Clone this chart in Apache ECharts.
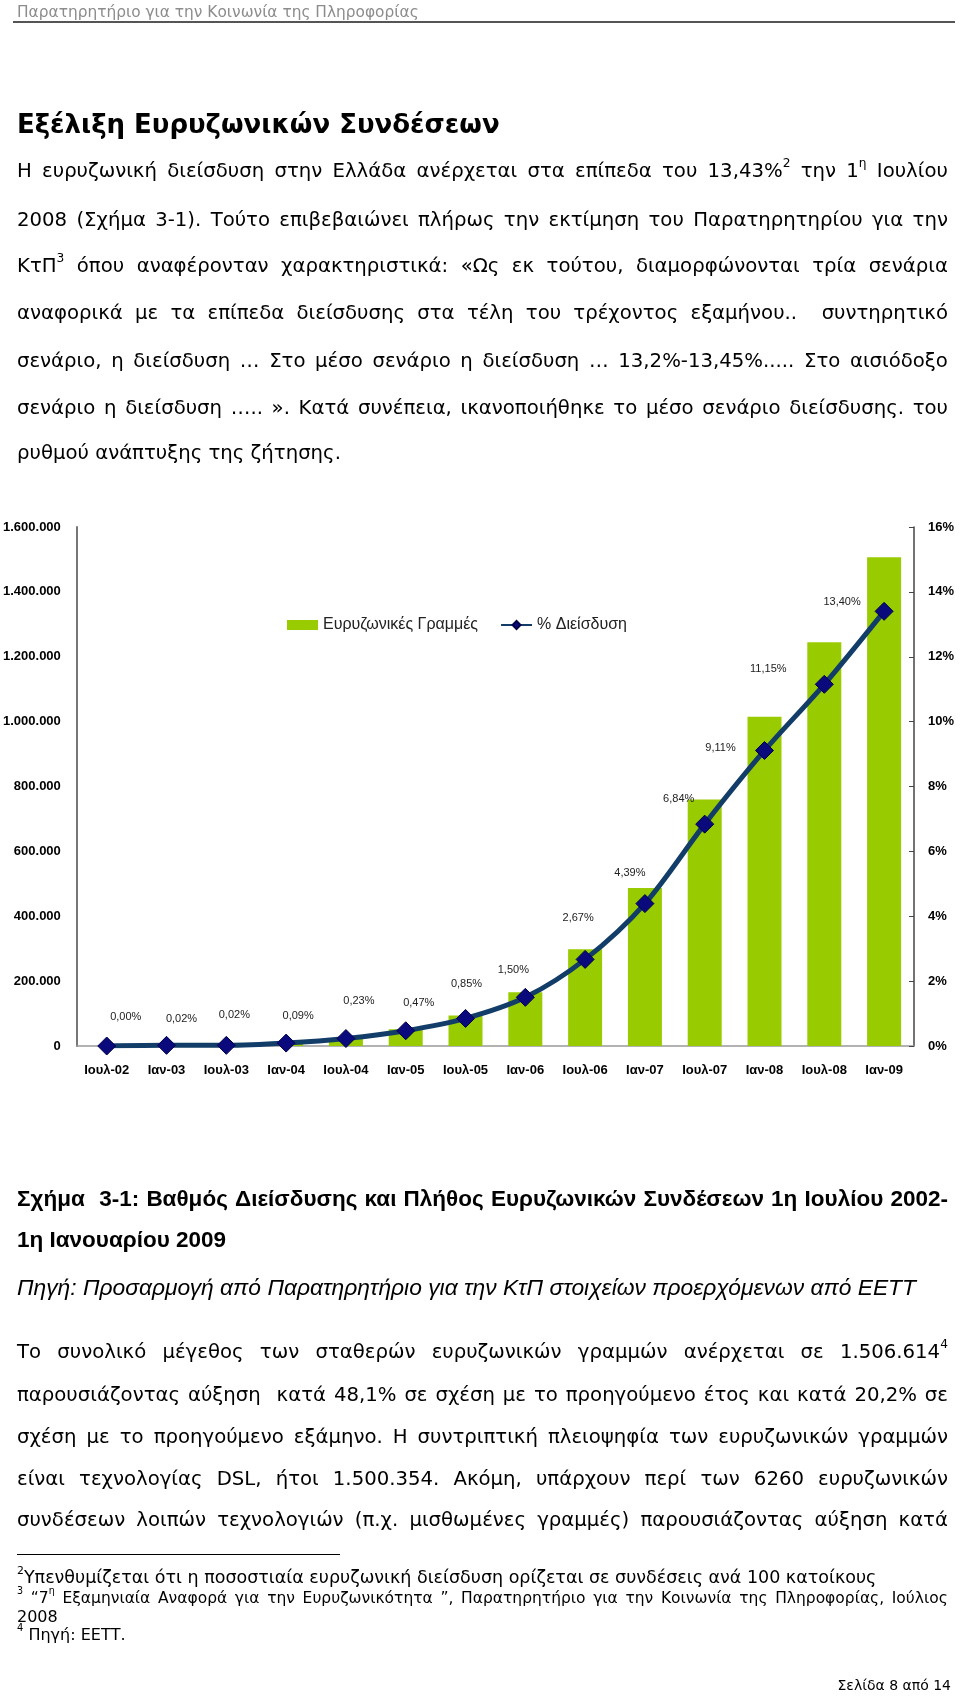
<!DOCTYPE html>
<html><head><meta charset="utf-8">
<script src="https://cdn.jsdelivr.net/npm/echarts@6/dist/echarts.min.js"></script>
<style>
html,body{margin:0;padding:0;background:#fff;}
body{width:960px;height:1704px;position:relative;overflow:hidden;}
#chart{position:absolute;left:0;top:0;width:960px;height:1704px;}
.t{position:absolute;white-space:nowrap;color:#000;}
.j{display:flex;justify-content:space-between;}
sup{font-size:62%;line-height:0;position:relative;top:-0.2em;vertical-align:super;}
</style></head><body>
<div id="chart"></div>
<div id="text"></div>
<script>
// ---- chart data ----
const categories = ['Ιουλ-02','Ιαν-03','Ιουλ-03','Ιαν-04','Ιουλ-04','Ιαν-05','Ιουλ-05','Ιαν-06','Ιουλ-06','Ιαν-07','Ιουλ-07','Ιαν-08','Ιουλ-08','Ιαν-09'];
const broadbandLines = [300, 2000, 2500, 10000, 25000, 52000, 94000, 166000, 298000, 487000, 760000, 1015000, 1245000, 1506614];
const penetration = [0.00, 0.02, 0.02, 0.09, 0.23, 0.47, 0.85, 1.50, 2.67, 4.39, 6.84, 9.11, 11.15, 13.40];
const leftTicks = [0, 200000, 400000, 600000, 800000, 1000000, 1200000, 1400000, 1600000];
const rightTicks = [0, 2, 4, 6, 8, 10, 12, 14, 16];
const seriesNames = ['Ευρυζωνικές Γραμμές', '% Διείσδυση'];
// label placement (style), one per point
const labelOffsets = [[19,-29],[15,-26],[8,-30],[12,-27],[13,-38],[13,-28],[1,-34],[-12,-27],[-7,-41],[-15,-31],[-26,-25],[-44,-3],[-56,-15],[-42,-9]];

// ---- page text ----
const headerText = 'Παρατηρητήριο για την Κοινωνία της Πληροφορίας';
const titleText = 'Εξέλιξη Ευρυζωνικών Συνδέσεων';
const para1 = [
 'Η ευρυζωνική διείσδυση στην Ελλάδα ανέρχεται στα επίπεδα του 13,43%^2 την 1^η Ιουλίου',
 '2008 (Σχήμα 3-1). Τούτο επιβεβαιώνει πλήρως την εκτίμηση του Παρατηρητηρίου για την',
 'ΚτΠ^3 όπου αναφέρονταν χαρακτηριστικά: «Ως εκ τούτου, διαμορφώνονται τρία σενάρια',
 'αναφορικά με τα επίπεδα διείσδυσης στα τέλη του τρέχοντος εξαμήνου..  συντηρητικό',
 'σενάριο, η διείσδυση … Στο μέσο σενάριο η διείσδυση … 13,2%-13,45%..... Στο αισιόδοξο',
 'σενάριο η διείσδυση ….. ». Κατά συνέπεια, ικανοποιήθηκε το μέσο σενάριο διείσδυσης. του',
 'ρυθμού ανάπτυξης της ζήτησης.'
];
const captionLines = [
 'Σχήμα  3-1: Βαθμός Διείσδυσης και Πλήθος Ευρυζωνικών Συνδέσεων 1η Ιουλίου 2002-',
 '1η Ιανουαρίου 2009'
];
const sourceText = 'Πηγή: Προσαρμογή από Παρατηρητήριο για την ΚτΠ στοιχείων προερχόμενων από ΕΕΤΤ';
const para2 = [
 'Το συνολικό μέγεθος των σταθερών ευρυζωνικών γραμμών ανέρχεται σε 1.506.614^4',
 'παρουσιάζοντας αύξηση  κατά 48,1% σε σχέση με το προηγούμενο έτος και κατά 20,2% σε',
 'σχέση με το προηγούμενο εξάμηνο. Η συντριπτική πλειοψηφία των ευρυζωνικών γραμμών',
 'είναι τεχνολογίας DSL, ήτοι 1.500.354. Ακόμη, υπάρχουν περί των 6260 ευρυζωνικών',
 'συνδέσεων λοιπών τεχνολογιών (π.χ. μισθωμένες γραμμές) παρουσιάζοντας αύξηση κατά'
];
const footnotes = [
 '^2Υπενθυμίζεται ότι η ποσοστιαία ευρυζωνική διείσδυση ορίζεται σε συνδέσεις ανά 100 κατοίκους',
 '^3 “7^η Εξαμηνιαία Αναφορά για την Ευρυζωνικότητα ”, Παρατηρητήριο για την Κοινωνία της Πληροφορίας, Ιούλιος',
 '2008',
 '^4 Πηγή: ΕΕΤΤ.'
];
const pageText = 'Σελίδα 8 από 14';

// ---- text rendering ----
const host = document.getElementById('text');
function sup(s){ return s.replace(/\^(\S)/g, '<sup>$1</sup>'); }
function addLine(txt, o){
  const d = document.createElement('div');
  d.className = 't' + (o.justify ? ' j' : '');
  const lh = o.lh || Math.round(o.size*1.3);
  d.style.top = (o.cy - lh/2) + 'px';
  d.style.lineHeight = lh + 'px';
  d.style.height = lh + 'px';
  if (o.right !== undefined) d.style.right = o.right + 'px'; else d.style.left = (o.left||17) + 'px';
  if (o.justify) d.style.width = (o.width||931) + 'px';
  d.style.fontSize = o.size + 'px';
  d.style.fontFamily = o.family || "'DejaVu Sans', Verdana, sans-serif";
  d.style.fontWeight = o.bold ? 'bold' : 'normal';
  d.style.fontStyle = o.italic ? 'italic' : 'normal';
  d.style.color = o.color || '#000';
  if (o.justify) {
    d.innerHTML = txt.split(' ').map(w => '<span>' + sup(w) + '</span>').join('');
  } else d.innerHTML = sup(txt);
  host.appendChild(d);
}
addLine(headerText, {cy:12, size:15.4, color:'#8c8c8c'});
const hr = document.createElement('div');
hr.style.cssText = 'position:absolute;left:13px;top:21px;width:942px;height:2px;background:#555;';
host.appendChild(hr);
addLine(titleText, {cy:124, size:26, bold:true});
const p1y = [171, 220, 266, 313, 361, 408, 453];
para1.forEach((l,i)=> addLine(l, {cy:p1y[i], size:19.7, justify: i < para1.length-1}));
const capFont = "'Liberation Sans', Arial, sans-serif";
addLine(captionLines[0], {cy:1198, size:22.5, bold:true, family:capFont, justify:true});
addLine(captionLines[1], {cy:1239, size:22.5, bold:true, family:capFont});
addLine(sourceText, {cy:1287, size:22.8, italic:true, family:capFont});
const p2y = [1352, 1395, 1437, 1479, 1520];
para2.forEach((l,i)=> addLine(l, {cy:p2y[i], size:19.7, justify:true}));
const fr = document.createElement('div');
fr.style.cssText = 'position:absolute;left:17px;top:1554px;width:323px;height:1px;background:#000;';
host.appendChild(fr);
const fny = [1577, 1598, 1616, 1634];
const fnSize = [17.5, 15.5, 16, 16];
footnotes.forEach((l,i)=> addLine(l, {cy:fny[i], size:fnSize[i], lh:19, justify: i===1}));
addLine(pageText, {cy:1685, size:14, right:9});

// ---- chart ----
const chart = echarts.init(document.getElementById('chart'), null, {renderer:'canvas'});
const axisFont = {fontFamily:"'Liberation Sans', Arial, sans-serif", fontWeight:'bold', fontSize:13, color:'#000'};
function fmtThousands(v){ return String(v).replace(/\B(?=(\d{3})+(?!\d))/g, '.'); }
chart.setOption({
  backgroundColor:'transparent',
  animation:false,
  grid:{left:74, top:527, width:840, height:519, containLabel:false},
  legend:{
    left:282, top:612, itemWidth:31, itemHeight:10, itemGap:22,
    textStyle:{fontFamily:"'Liberation Sans', Arial, sans-serif", fontSize:16, color:'#222'},
    data:[{name:seriesNames[0], icon:'rect'}, {name:seriesNames[1]}]
  },
  xAxis:{
    type:'category', data:categories,
    axisLine:{lineStyle:{color:'#999', width:1.5}},
    axisTick:{show:false},
    axisLabel:Object.assign({margin:18, interval:0}, axisFont)
  },
  yAxis:[
    {type:'value', min:leftTicks[0], max:leftTicks[leftTicks.length-1], interval:leftTicks[1]-leftTicks[0],
     axisLine:{show:true, lineStyle:{color:'#777', width:2}}, axisTick:{show:false}, splitLine:{show:false},
     axisLabel:Object.assign({margin:16, formatter:v=>fmtThousands(v)}, axisFont)},
    {type:'value', min:rightTicks[0], max:rightTicks[rightTicks.length-1], interval:rightTicks[1]-rightTicks[0], position:'right',
     axisLine:{show:true, lineStyle:{color:'#444', width:1.5}}, axisTick:{show:true, inside:true, length:5, lineStyle:{color:'#444'}}, splitLine:{show:false},
     axisLabel:Object.assign({margin:14, formatter:'{value}%'}, axisFont)}
  ],
  series:[
    {name:seriesNames[0], type:'bar', yAxisIndex:0, data:broadbandLines, barWidth:34,
     itemStyle:{color:'#99cc00'}},
    {name:seriesNames[1], type:'line', yAxisIndex:1, smooth:0.3,
     data:penetration.map((v,i)=>({value:v, label:{offset:labelOffsets[i]}})),
     symbol:'diamond', symbolSize:18,
     lineStyle:{color:'#123d69', width:5},
     itemStyle:{color:'#0a0a7c', borderColor:'#00004a', borderWidth:1},
     label:{show:true, position:'inside', fontFamily:"'Liberation Sans', Arial, sans-serif", fontSize:11, color:'#222',
       formatter:p=>p.value.toFixed(2).replace('.', ',') + '%'}}
  ]
});
</script>
</body></html>
